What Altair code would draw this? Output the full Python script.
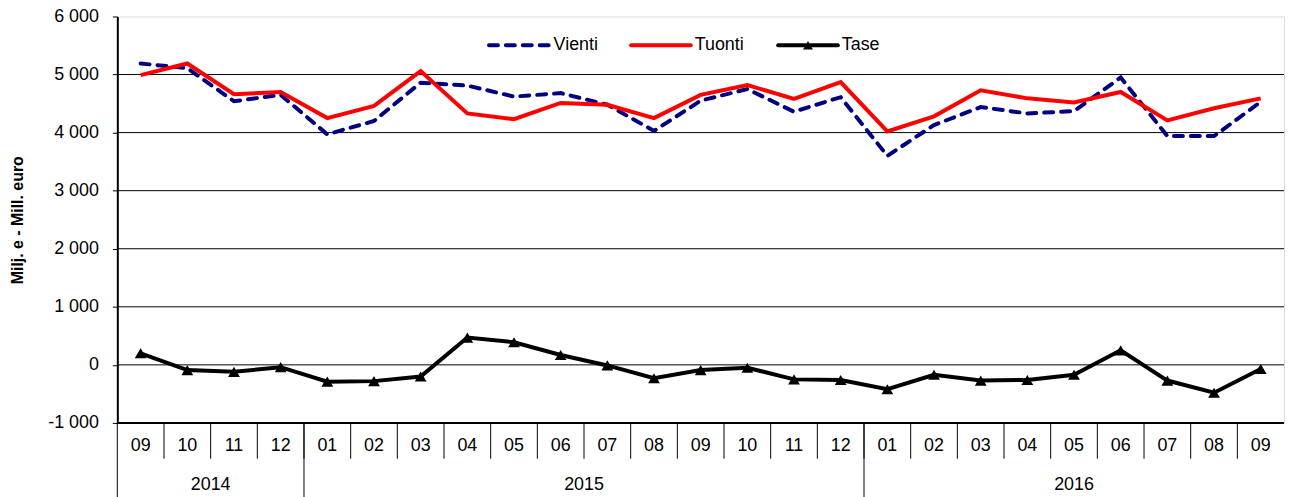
import altair as alt
import pandas as pd

# ---------------- data ----------------
months = ["09", "10", "11", "12", "01", "02", "03", "04", "05", "06", "07", "08",
          "09", "10", "11", "12", "01", "02", "03", "04", "05", "06", "07", "08", "09"]
years = ["2014"] * 4 + ["2015"] * 12 + ["2016"] * 9
series_names = ["Vienti", "Tuonti", "Tase"]
vienti = [5190, 5110, 4540, 4650, 3970, 4200, 4860, 4810, 4620, 4680, 4480, 4030,
          4550, 4750, 4360, 4610, 3600, 4130, 4440, 4330, 4370, 4950, 3940, 3940, 4530]
tuonti = [4990, 5190, 4660, 4700, 4250, 4460, 5060, 4330, 4230, 4510, 4480, 4250,
          4650, 4820, 4580, 4870, 4020, 4280, 4730, 4590, 4520, 4700, 4210, 4420, 4590]
tase = [200, -90, -120, -40, -290, -280, -200, 470, 390, 170, -10, -230,
        -90, -50, -250, -260, -420, -170, -270, -260, -170, 250, -270, -480, -70]
y_ticks = [-1000, 0, 1000, 2000, 3000, 4000, 5000, 6000]
y_title = "Milj. e - Mill. euro"

FONT = "Liberation Sans"
W, H = 1174, 409
n = len(months)

idx = list(range(n))
long = pd.concat([
    pd.DataFrame({"idx": idx, "series": name, "value": vals})
    for name, vals in zip(series_names, [vienti, tuonti, tase])
])
mdf = pd.DataFrame({"idx": idx, "month": months, "year": years})
ydf = mdf.groupby("year", as_index=False)["idx"].mean()
grid_df = pd.DataFrame({"value": y_ticks[:-1]})
msep = pd.DataFrame({"idx": [i + 0.5 for i in range(n - 1)]})
ysep_idx = [-0.5] + [i + 0.5 for i in range(n - 1) if years[i] != years[i + 1]]
ysep = pd.DataFrame({"idx": ysep_idx})

xs = alt.Scale(domain=[-0.5, n - 0.5], nice=False, zero=False)
ys = alt.Scale(domain=[y_ticks[0], y_ticks[-1]], nice=False, zero=False)
X = alt.X("idx:Q", scale=xs, axis=None)
yaxis = alt.Axis(
    values=y_ticks, grid=False, domainColor="black", domainWidth=2,
    tickColor="black", tickSize=5, tickWidth=1,
    labelFont=FONT, labelFontSize=18, labelColor="black", labelPadding=14,
    labelExpr="replace(replace(format(datum.value, ','), ',', ' '), '\u2212', '-')",
    title=y_title, titleFont=FONT, titleFontSize=16, titleFontWeight="bold",
    titleColor="black", titleX=-100, titleY=H / 2, titleAngle=270,
    titleAlign="center", titleBaseline="middle",
)
Y = alt.Y("value:Q", scale=ys, axis=yaxis)

grid = alt.Chart(grid_df).mark_rule(color="black", strokeWidth=1).encode(y=Y)
bottom = alt.Chart(pd.DataFrame({"value": [y_ticks[0]]})).mark_rule(
    color="black", strokeWidth=2).encode(y=Y)

def series_chart(name):
    return alt.Chart(long).transform_filter(alt.datum.series == name)

l_v = series_chart("Vienti").mark_line(
    color="#000080", strokeWidth=4, strokeDash=[9, 8], strokeCap="round"
).encode(x=X, y=Y)
l_t = series_chart("Tuonti").mark_line(color="#FF0000", strokeWidth=4).encode(x=X, y=Y)
l_b = series_chart("Tase").mark_line(color="black", strokeWidth=4).encode(x=X, y=Y)
p_b = series_chart("Tase").mark_point(
    shape="triangle-up", filled=True, color="black", size=140, opacity=1
).encode(x=X, y=Y)

msep_c = alt.Chart(msep).mark_rule(color="black", strokeWidth=1).encode(
    x=X, y=alt.value(H), y2=alt.value(H + 36))
ysep_c = alt.Chart(ysep).mark_rule(color="black", strokeWidth=1).encode(
    x=X, y=alt.value(H), y2=alt.value(H + 80))
mtext = alt.Chart(mdf).mark_text(
    font=FONT, fontSize=18, color="black", baseline="middle", align="center"
).encode(x=X, y=alt.value(H + 23), text="month:N")
ytext = alt.Chart(ydf).mark_text(
    font=FONT, fontSize=18, color="black", baseline="middle", align="center"
).encode(x=X, y=alt.value(H + 62), text="year:N")

# legend (manual)
LY = 29
leg_layers = []
leg_specs = [
    ("Vienti", 374, 435, dict(color="#000080", strokeWidth=4, strokeDash=[9, 8], strokeCap="round")),
    ("Tuonti", 517, 577, dict(color="#FF0000", strokeWidth=4, strokeCap="round")),
    ("Tase", 665, 725, dict(color="black", strokeWidth=4, strokeCap="round")),
]
one = pd.DataFrame({"a": [0]})
for name, x0, x1, sty in leg_specs:
    leg_layers.append(alt.Chart(one).mark_rule(**sty).encode(
        x=alt.value(x0), x2=alt.value(x1), y=alt.value(LY)))
    leg_layers.append(alt.Chart(pd.DataFrame({"t": [name]})).mark_text(
        font=FONT, fontSize=18, color="black", align="left", baseline="middle"
    ).encode(x=alt.value(x1 + 4), y=alt.value(LY), text="t:N"))
leg_layers.append(alt.Chart(one).mark_point(
    shape="triangle-up", filled=True, color="black", size=100, opacity=1
).encode(x=alt.value((665 + 725) / 2), y=alt.value(LY)))

chart = alt.layer(
    grid, bottom, l_v, l_t, l_b, p_b, msep_c, ysep_c, mtext, ytext, *leg_layers
).properties(
    width=W, height=H,
    autosize=alt.AutoSizeParams(type="none"),
    padding={"left": 110, "top": 7, "right": 4, "bottom": 73},
).configure_view(
    stroke="#808080", strokeWidth=3
).configure(background="white")

chart.save("out.html", embed_options={"renderer": "svg", "actions": False})
